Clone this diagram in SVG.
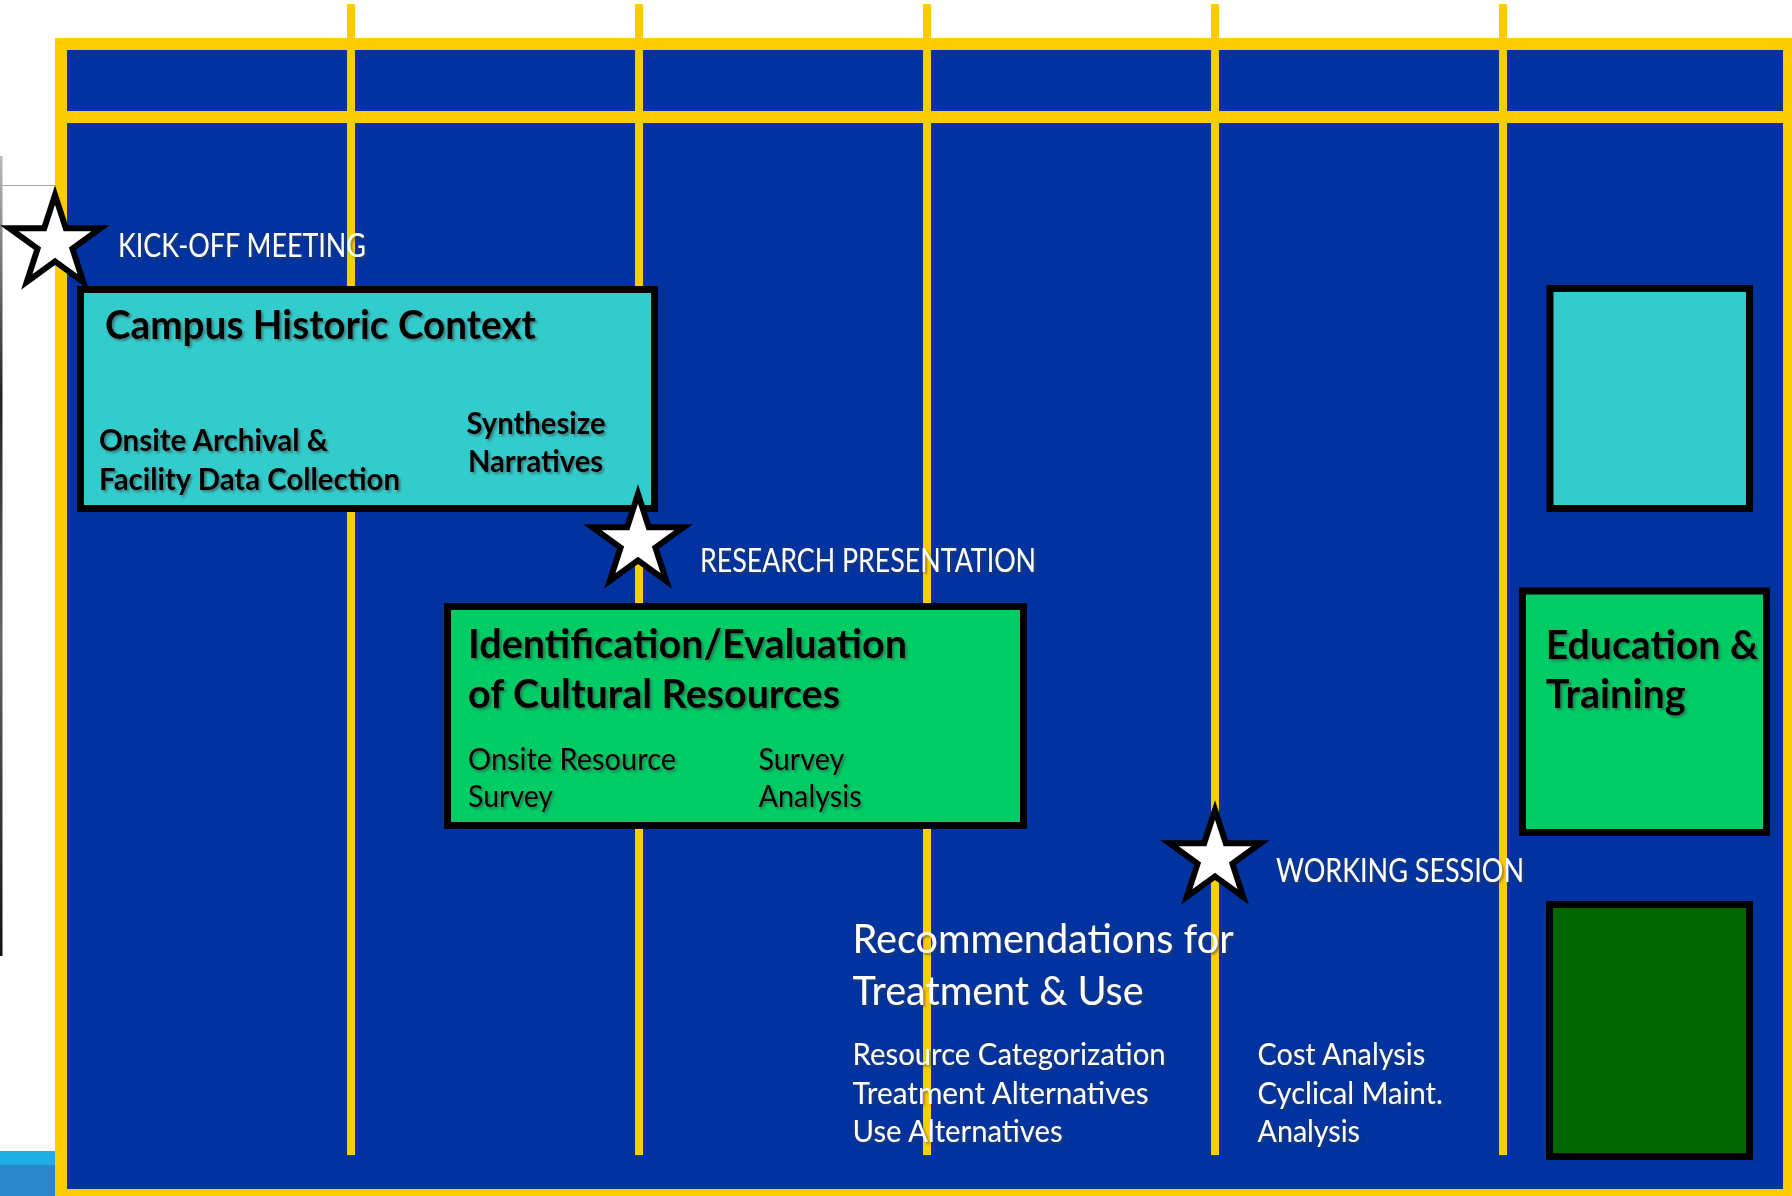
<svg xmlns="http://www.w3.org/2000/svg" xmlns:xlink="http://www.w3.org/1999/xlink" width="1792" height="1196" viewBox="0 0 1792 1196">
  <style>
    text { font-family: Lato, "Liberation Sans", "DejaVu Sans", sans-serif; }
    .lbl { font-size: 32px; fill: #ffffff; filter: url(#shadow); }
    .ttl { font-size: 40px; font-weight: bold; fill: #000000; filter: url(#shadow); }
    .sub { font-size: 31px; font-weight: bold; fill: #000000; filter: url(#shadow); }
    .subr { font-size: 31px; fill: #000000; filter: url(#shadow); }
    .wttl { font-size: 40px; fill: #ffffff; filter: url(#shadow); }
    .wsub { font-size: 31px; fill: #ffffff; filter: url(#shadow); }
    .box { stroke: #000000; stroke-width: 7; }
    .cyan { fill: #33cccc; }
    .green { fill: #00cc66; }
    .dgreen { fill: #006600; }
    .vline { fill: #ffcc00; }
    .star { fill: #ffffff; stroke: #000000; stroke-width: 6; stroke-linejoin: miter; stroke-miterlimit: 10; }
  </style>
  <defs>
    <filter id="shadow" x="-5%" y="-20%" width="110%" height="150%">
      <feDropShadow dx="2" dy="2" stdDeviation="1" flood-color="#404040" flood-opacity="0.55"/>
    </filter>
    <polygon id="starShape" points="0,-48 10.78,-14.84 45.65,-14.83 17.44,5.67 28.21,38.83 0,18.34 -28.21,38.83 -17.44,5.67 -45.65,-14.83 -10.78,-14.84"/>
    <linearGradient id="edge" x1="0" y1="0" x2="0" y2="1">
      <stop offset="0" stop-color="#bbbbbb"/>
      <stop offset="0.3" stop-color="#222222"/>
      <stop offset="0.6" stop-color="#666666"/>
      <stop offset="1" stop-color="#111111"/>
    </linearGradient>
  </defs>

  <!-- background and edge fragments -->
  <rect x="0" y="0" width="1792" height="1196" fill="#ffffff"/>
  <rect x="0" y="156" width="2.5" height="800" fill="url(#edge)"/>
  <rect x="0" y="185" width="55" height="1" fill="#aaaaaa"/>
  <rect x="0" y="1151" width="55" height="14" fill="#1eaee3"/>
  <rect x="0" y="1165" width="55" height="31" fill="#2b88c8"/>

  <!-- frame and grid -->
  <g id="grid">
    <rect x="61" y="44" width="1728" height="1151" fill="#0033a0" stroke="#ffcc00" stroke-width="12"/>
    <rect x="55" y="111" width="1740" height="12" fill="#ffcc00"/>
    <rect class="vline" x="347" y="4" width="8" height="1151"/>
    <rect class="vline" x="635" y="4" width="8" height="1151"/>
    <rect class="vline" x="923" y="4" width="8" height="1151"/>
    <rect class="vline" x="1211" y="4" width="8" height="1151"/>
    <rect class="vline" x="1499" y="4" width="8" height="1151"/>
  </g>

  <g id="connectors"></g>

  <!-- Campus Historic Context -->
  <g id="campus-historic-context">
    <rect class="box cyan" x="80.5" y="289.5" width="574" height="219"/>
    <text class="ttl" x="105" y="339" textLength="431" lengthAdjust="spacingAndGlyphs">Campus Historic Context</text>
    <text class="sub" x="99" y="451" textLength="229" lengthAdjust="spacingAndGlyphs">Onsite Archival &amp;</text>
    <text class="sub" x="99" y="490" textLength="301" lengthAdjust="spacingAndGlyphs">Facility Data Collection</text>
    <text class="sub" x="466.5" y="434" textLength="139" lengthAdjust="spacingAndGlyphs">Synthesize</text>
    <text class="sub" x="468" y="472" textLength="135" lengthAdjust="spacingAndGlyphs">Narratives</text>
  </g>

  <!-- right cyan box -->
  <g id="cyan-box-right">
    <rect class="box cyan" x="1550" y="288.5" width="199.5" height="220"/>
  </g>

  <!-- Identification / Evaluation -->
  <g id="identification-evaluation">
    <rect class="box green" x="447.5" y="606.5" width="576" height="219"/>
    <text class="ttl" x="468" y="658" textLength="439" lengthAdjust="spacingAndGlyphs">Identification/Evaluation</text>
    <text class="ttl" x="468" y="708" textLength="372" lengthAdjust="spacingAndGlyphs">of Cultural Resources</text>
    <text class="subr" x="468" y="770" textLength="208" lengthAdjust="spacingAndGlyphs">Onsite Resource</text>
    <text class="subr" x="468" y="807" textLength="85" lengthAdjust="spacingAndGlyphs">Survey</text>
    <text class="subr" x="758.6" y="770" textLength="85.7" lengthAdjust="spacingAndGlyphs">Survey</text>
    <text class="subr" x="758.6" y="807" textLength="103" lengthAdjust="spacingAndGlyphs">Analysis</text>
  </g>

  <!-- Education & Training -->
  <g id="education-training">
    <rect class="box green" x="1522.5" y="591" width="244" height="241.5"/>
    <text class="ttl" x="1545.7" y="659" textLength="212.6" lengthAdjust="spacingAndGlyphs">Education &amp;</text>
    <text class="ttl" x="1545.7" y="708" textLength="140" lengthAdjust="spacingAndGlyphs">Training</text>
  </g>

  <!-- dark green box -->
  <g id="dark-green-box">
    <rect class="box dgreen" x="1549.5" y="904.5" width="200" height="252"/>
  </g>

  <!-- Recommendations -->
  <g id="recommendations">
    <text class="wttl" x="852.6" y="953" textLength="381" lengthAdjust="spacingAndGlyphs">Recommendations for</text>
    <text class="wttl" x="852.6" y="1005" textLength="291" lengthAdjust="spacingAndGlyphs">Treatment &amp; Use</text>
    <text class="wsub" x="852.6" y="1065" textLength="313" lengthAdjust="spacingAndGlyphs">Resource Categorization</text>
    <text class="wsub" x="852.6" y="1104" textLength="296" lengthAdjust="spacingAndGlyphs">Treatment Alternatives</text>
    <text class="wsub" x="852.6" y="1142" textLength="210" lengthAdjust="spacingAndGlyphs">Use Alternatives</text>
    <text class="wsub" x="1257.6" y="1065" textLength="167.6" lengthAdjust="spacingAndGlyphs">Cost Analysis</text>
    <text class="wsub" x="1257.6" y="1104" textLength="185.3" lengthAdjust="spacingAndGlyphs">Cyclical Maint.</text>
    <text class="wsub" x="1257.6" y="1142" textLength="102.4" lengthAdjust="spacingAndGlyphs">Analysis</text>
  </g>

  <!-- Milestones -->
  <g id="kick-off-meeting">
    <use xlink:href="#starShape" href="#starShape" class="star" transform="translate(55,243)"/>
    <text class="lbl" x="118" y="257" textLength="248" lengthAdjust="spacingAndGlyphs">KICK-OFF MEETING</text>
  </g>
  <g id="research-presentation">
    <use xlink:href="#starShape" href="#starShape" class="star" transform="translate(638,542)"/>
    <text class="lbl" x="700" y="572" textLength="336" lengthAdjust="spacingAndGlyphs">RESEARCH PRESENTATION</text>
  </g>
  <g id="working-session">
    <use xlink:href="#starShape" href="#starShape" class="star" transform="translate(1215,858)"/>
    <text class="lbl" x="1276" y="882" textLength="248" lengthAdjust="spacingAndGlyphs">WORKING SESSION</text>
  </g>
</svg>
